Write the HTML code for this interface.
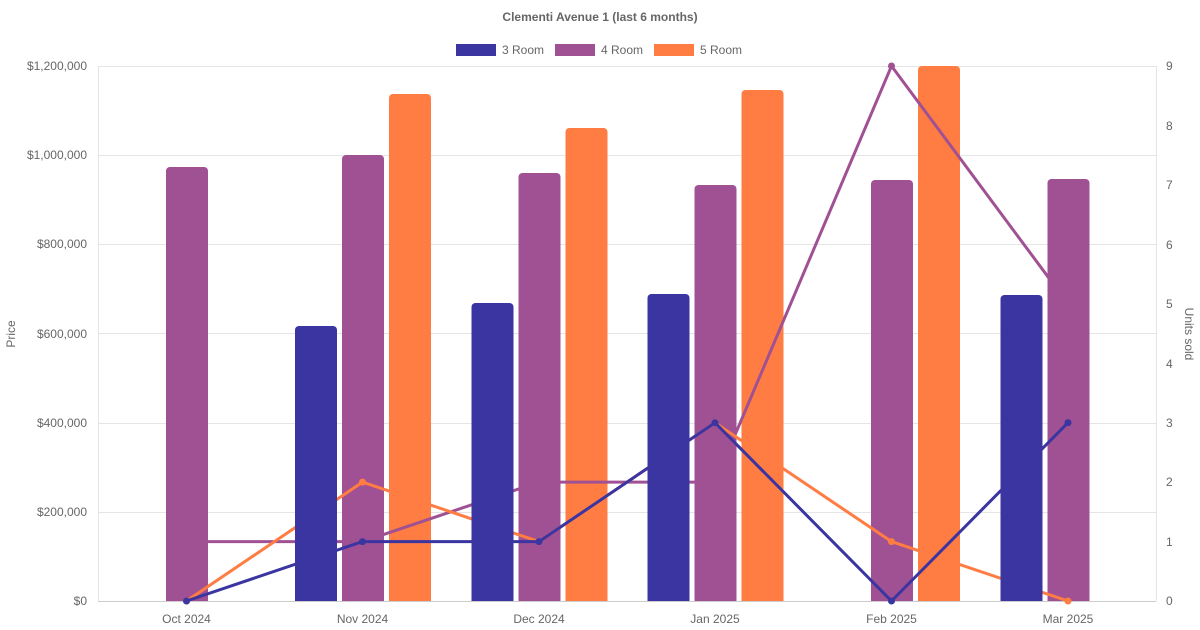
<!DOCTYPE html>
<html><head><style>
body{margin:0;background:#fff;}
svg{display:block;font-family:"Liberation Sans",Arial,sans-serif;}
</style></head><body>
<svg width="1200" height="630" viewBox="0 0 1200 630">
<rect width="1200" height="630" fill="#fff"/>
<text x="600" y="21" text-anchor="middle" font-size="12" font-weight="bold" fill="#666">Clementi Avenue 1 (last 6 months)</text>
<!-- legend -->
<rect x="456" y="44" width="40" height="12" fill="#3a35a0"/>
<text x="502" y="54" font-size="12" fill="#666">3 Room</text>
<rect x="555" y="44" width="40" height="12" fill="#a05193"/>
<text x="601" y="54" font-size="12" fill="#666">4 Room</text>
<rect x="654" y="44" width="40" height="12" fill="#ff7c43"/>
<text x="700" y="54" font-size="12" fill="#666">5 Room</text>
<!-- grid -->
<g stroke="#e5e5e5" stroke-width="1">
<line x1="98" y1="66.5" x2="1156" y2="66.5"/>
<line x1="98" y1="155.5" x2="1156" y2="155.5"/>
<line x1="98" y1="244.5" x2="1156" y2="244.5"/>
<line x1="98" y1="333.5" x2="1156" y2="333.5"/>
<line x1="98" y1="423.5" x2="1156" y2="423.5"/>
<line x1="98" y1="512.5" x2="1156" y2="512.5"/>
<line x1="98.5" y1="66" x2="98.5" y2="601"/>
<line x1="1156.5" y1="66" x2="1156.5" y2="601"/>
</g>
<line x1="98" y1="601.5" x2="1156" y2="601.5" stroke="#ccc"/>
<g font-size="12" fill="#666" text-anchor="end">
<text x="87" y="70">$1,200,000</text>
<text x="87" y="159">$1,000,000</text>
<text x="87" y="248">$800,000</text>
<text x="87" y="338">$600,000</text>
<text x="87" y="427">$400,000</text>
<text x="87" y="516">$200,000</text>
<text x="87" y="605">$0</text>
</g>
<g font-size="12" fill="#666">
<text x="1166" y="70">9</text>
<text x="1166" y="130">8</text>
<text x="1166" y="189">7</text>
<text x="1166" y="249">6</text>
<text x="1166" y="308">5</text>
<text x="1166" y="368">4</text>
<text x="1166" y="427">3</text>
<text x="1166" y="486">2</text>
<text x="1166" y="546">1</text>
<text x="1166" y="605">0</text>
</g>
<g font-size="12" fill="#666" text-anchor="middle">
<text x="186.5" y="623">Oct 2024</text>
<text x="362.5" y="623">Nov 2024</text>
<text x="539" y="623">Dec 2024</text>
<text x="715" y="623">Jan 2025</text>
<text x="891.5" y="623">Feb 2025</text>
<text x="1068" y="623">Mar 2025</text>
</g>
<text transform="translate(15,334) rotate(-90)" text-anchor="middle" font-size="12" fill="#666">Price</text>
<text transform="translate(1185,334) rotate(90)" text-anchor="middle" font-size="12" fill="#666">Units sold</text>
<!-- 5R bars -->
<g fill="#ff7c43">
<path d="M389,601V98a4,4 0 0 1 4,-4h34a4,4 0 0 1 4,4V601z"/>
<path d="M565.5,601V132a4,4 0 0 1 4,-4h34a4,4 0 0 1 4,4V601z"/>
<path d="M741.5,601V94a4,4 0 0 1 4,-4h34a4,4 0 0 1 4,4V601z"/>
<path d="M918,601V70a4,4 0 0 1 4,-4h34a4,4 0 0 1 4,4V601z"/>
</g>
<!-- 4R line -->
<polyline points="186.5,541.6 362.5,541.6 539,482.1 715,482.1 891.5,66 1068,303.8" fill="none" stroke="#a05193" stroke-width="3" stroke-linejoin="round"/>
<g fill="#a05193"><circle cx="891.5" cy="66" r="3.5"/></g>
<!-- 4R bars -->
<g fill="#a05193">
<path d="M166,601V171a4,4 0 0 1 4,-4h34a4,4 0 0 1 4,4V601z"/>
<path d="M342,601V159a4,4 0 0 1 4,-4h34a4,4 0 0 1 4,4V601z"/>
<path d="M518.5,601V177a4,4 0 0 1 4,-4h34a4,4 0 0 1 4,4V601z"/>
<path d="M694.5,601V189a4,4 0 0 1 4,-4h34a4,4 0 0 1 4,4V601z"/>
<path d="M871,601V184a4,4 0 0 1 4,-4h34a4,4 0 0 1 4,4V601z"/>
<path d="M1047.5,601V183a4,4 0 0 1 4,-4h34a4,4 0 0 1 4,4V601z"/>
</g>
<!-- 5R line -->
<polyline points="186.5,601 362.5,482.1 539,541.6 715,422.7 891.5,541.6 1068,601" fill="none" stroke="#ff7c43" stroke-width="3" stroke-linejoin="round"/>
<g fill="#ff7c43"><circle cx="186.5" cy="601" r="3.5"/><circle cx="362.5" cy="482.1" r="3.5"/><circle cx="539" cy="541.6" r="3.5"/><circle cx="715" cy="422.7" r="3.5"/><circle cx="891.5" cy="541.6" r="3.5"/><circle cx="1068" cy="601" r="3.5"/></g>
<!-- 3R line -->
<polyline points="186.5,601 362.5,541.6 539,541.6 715,422.7 891.5,601 1068,422.7" fill="none" stroke="#3a35a0" stroke-width="3" stroke-linejoin="round"/>
<g fill="#3a35a0"><circle cx="186.5" cy="601" r="3.5"/><circle cx="362.5" cy="541.6" r="3.5"/><circle cx="539" cy="541.6" r="3.5"/><circle cx="715" cy="422.7" r="3.5"/><circle cx="891.5" cy="601" r="3.5"/><circle cx="1068" cy="422.7" r="3.5"/></g>
<!-- 3R bars -->
<g fill="#3a35a0">
<path d="M295,601V330a4,4 0 0 1 4,-4h34a4,4 0 0 1 4,4V601z"/>
<path d="M471.5,601V307a4,4 0 0 1 4,-4h34a4,4 0 0 1 4,4V601z"/>
<path d="M647.5,601V298a4,4 0 0 1 4,-4h34a4,4 0 0 1 4,4V601z"/>
<path d="M1000.5,601V299a4,4 0 0 1 4,-4h34a4,4 0 0 1 4,4V601z"/>
</g>
</svg>
</body></html>
